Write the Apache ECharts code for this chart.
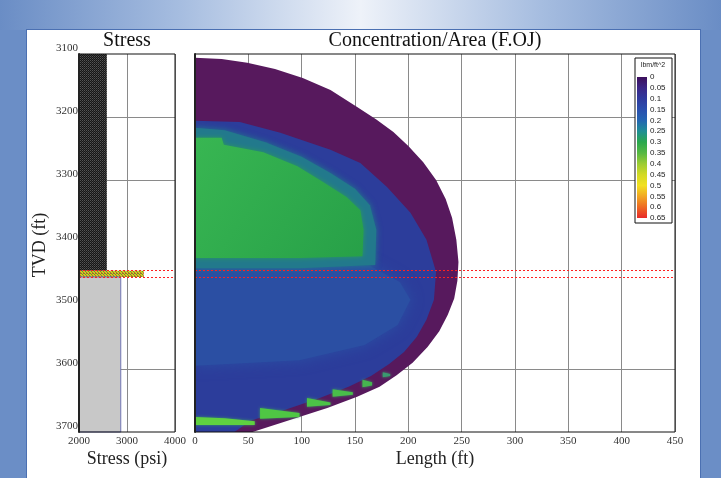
<!DOCTYPE html>
<html><head><meta charset="utf-8">
<script src="https://cdn.jsdelivr.net/npm/echarts@6/dist/echarts.min.js"></script>
<style>
html,body{margin:0;padding:0;width:721px;height:478px;overflow:hidden;background:#6b8ec6;}
#top{position:absolute;left:0;top:0;width:721px;height:30px;background:linear-gradient(to right,#6a8dc5 0%,#a6bde0 25%,#eef2f9 50%,#a6bde0 75%,#6a8dc5 100%);}
#panel{position:absolute;left:26px;top:29px;width:673px;height:460px;background:#fff;border:1px solid #4b70b2;}
#chart{position:absolute;left:0;top:0;width:721px;height:478px;}
</style></head>
<body><div id="top"></div><div id="panel"></div><div id="chart"></div>
<script>
// ---- data ----
const layerTops = [3100, 3444, 3454];
const layerBottoms = [3444, 3454, 3700];
const layerStress = [2580, 3350, 2870];
const gridDepths = [3200, 3300, 3600];
const markerDepths = [3444, 3454];
const legendMax = 0.65;

const envelopeZone = [[0,3106],[25,3108],[49,3114],[75,3124],[101,3138],[127,3157],[152,3184],[170,3204],[186,3224],[200,3246],[214,3272],[226,3300],[235,3330],[241,3360],[245,3395],[247,3430],[246,3460],[243,3488],[237,3514],[229,3540],[218,3565],[204,3590],[189,3610],[173,3628],[152,3644],[124,3662],[89,3681],[54,3700],[0,3700]];
const blueZone = [[0,3206],[42,3208],[80,3225],[127,3252],[155,3273],[180,3311],[202,3352],[217,3395],[226,3446],[224,3490],[217,3522],[208,3549],[196,3573],[182,3592],[165,3611],[144,3628],[117,3646],[84,3665],[52,3682],[37,3700],[0,3700]];
const coreBlueZone = [[0,3430],[164,3436],[192,3462],[202,3490],[190,3530],[159,3562],[98,3586],[0,3595]];
const tealZone = [[0,3217],[28,3221],[66,3240],[100,3263],[127,3289],[150,3314],[164,3340],[170,3379],[169,3435],[98,3440],[0,3440]];
const greenZone = [[0,3233],[25,3233],[27,3244],[64,3256],[96,3278],[120,3303],[142,3327],[155,3348],[158,3379],[157,3421],[98,3424],[0,3424]];
const streakZones = [
  [[0,3676],[28,3678],[56,3683],[56,3689],[0,3689]],
  [[61,3662],[61,3679],[98,3676],[98,3670]],
  [[105,3646],[105,3660],[127,3657],[127,3653]],
  [[129,3632],[129,3644],[148,3641],[148,3637]],
  [[157,3617],[157,3629],[166,3626],[166,3621]],
  [[176,3605],[176,3613],[183,3611],[183,3608]]
];

// ---- styles ----
const legendColors = ['#3d0f5c','#3b2687','#2f3a9e','#2a4fae','#2466b2','#1f8f95','#2aa84d','#56b843','#9ccc33','#d2d925','#f2e01f','#f2a722','#ee6a22','#e82a2a'];
const serif = '"Liberation Serif","DejaVu Serif",serif';

function makePattern(size, bg, cells) {
  const c = document.createElement('canvas'); c.width = size; c.height = size;
  const g = c.getContext('2d'); g.fillStyle = bg; g.fillRect(0,0,size,size);
  cells.forEach(([x,y,col]) => { g.fillStyle = col; g.fillRect(x,y,1,1); });
  return c;
}
const darkPat = makePattern(2, '#161616', [[0,0,'#555'],[1,1,'#3a3a3a']]);
const bandPat = makePattern(3, '#d8c21e', [[0,0,'#5f9a32'],[1,1,'#5f9a32'],[2,2,'#8a8a30'],[2,0,'#c05030']]);
function layerStyle(i) {
  if (i === 0) return {fill:{image:darkPat, repeat:'repeat'}};
  if (i === 1) return {fill:{image:bandPat, repeat:'repeat'}};
  return {fill:'#c8c8c8', stroke:'#7276b4', lineWidth:1};
}
const zones = [envelopeZone, blueZone, coreBlueZone, tealZone, greenZone].concat(streakZones);
function zoneStyle(i) {
  switch (i) {
    case 0: return {fill:'#57195d'};
    case 1: return {fill:'#2c3d9b'};
    case 2: return {fill:'#2b4fa3', shadowBlur:14, shadowColor:'#2b4fa3'};
    case 3: return {fill:'#22798c', shadowBlur:6, shadowColor:'#22798c'};
    case 4: return {fill:new echarts.graphic.LinearGradient(0,0,1,1,[{offset:0,color:'#38b652'},{offset:1,color:'#27a048'}]), shadowBlur:5, shadowColor:'#2a9a5a'};
    case 5: return {fill:'#5fd040', shadowBlur:3, shadowColor:'#3aa060'};
    default: return {fill:['#4fc644','#4cc247','#49bd4a','#46b44f','#3a9a70'][i-6] || '#4cc247', shadowBlur:3, shadowColor:'#3aa060'};
  }
}

const chart = echarts.init(document.getElementById('chart'), null, {renderer:'canvas'});

function gridLineSeries(idx, x0, depths, z) {
  return {type:'custom', xAxisIndex:idx, yAxisIndex:idx, z:z, silent:true,
    data: depths.map(d => [x0, d]),
    renderItem: (params, api) => {
      const cs = params.coordSys;
      const y = Math.round(api.coord([api.value(0), api.value(1)])[1]) + 0.5;
      return {type:'line', shape:{x1:cs.x, y1:y, x2:cs.x + cs.width, y2:y}, style:{stroke:'#8a8a8a', lineWidth:1}};
    }};
}
function markerSeries(idx) {
  return {type:'line', xAxisIndex:idx, yAxisIndex:idx, z:5, silent:true, data:[], symbol:'none',
    markLine:{silent:true, symbol:'none', animation:false, label:{show:false},
      lineStyle:{color:'#ff2020', width:1, type:[2,2], opacity:1},
      emphasis:{disabled:true},
      data: markerDepths.map(d => ({yAxis:d}))}};
}

const labelStyle = {color:'#333', fontFamily:serif, fontSize:11, formatter: v => String(v)};

chart.setOption({
  animation:false,
  backgroundColor:'transparent',
  grid:[
    {left:79, top:54, width:96, height:378, show:true, backgroundColor:'transparent', borderColor:'#111', borderWidth:1, z:10, outerBoundsMode:'none'},
    {left:195, top:54, width:480, height:378, show:true, backgroundColor:'transparent', borderColor:'#111', borderWidth:1, z:10, outerBoundsMode:'none'},
    {left:637, top:77, width:10, height:141, show:false, outerBoundsMode:'none'}
  ],
  xAxis:[
    {gridIndex:0, type:'value', min:2000, max:4000, interval:1000, axisLine:{show:false}, axisTick:{show:false},
     splitLine:{show:true, lineStyle:{color:'#8a8a8a', width:1}}, axisLabel:Object.assign({margin:4}, labelStyle)},
    {gridIndex:1, type:'value', min:0, max:450, interval:50, axisLine:{show:false}, axisTick:{show:false},
     splitLine:{show:true, lineStyle:{color:'#8a8a8a', width:1}}, axisLabel:Object.assign({margin:4}, labelStyle)},
    {gridIndex:2, type:'value', min:0, max:1, show:false}
  ],
  yAxis:[
    {gridIndex:0, type:'value', min:3100, max:3700, interval:100, inverse:true, z:11,
     axisLine:{show:true, lineStyle:{color:'#222', width:2}}, axisTick:{show:false}, splitLine:{show:false},
     axisLabel:Object.assign({margin:1, verticalAlign:'bottom'}, labelStyle)},
    {gridIndex:1, type:'value', min:3100, max:3700, interval:100, inverse:true, z:11,
     axisLine:{show:true, lineStyle:{color:'#222', width:2}}, axisTick:{show:false}, splitLine:{show:false}, axisLabel:{show:false}},
    {gridIndex:2, type:'value', min:0, max:legendMax, interval:0.05, inverse:true, position:'right', z:12,
     axisLine:{show:false}, axisTick:{show:false}, splitLine:{show:false},
     axisLabel:{margin:3, color:'#222', fontSize:8, fontFamily:'"Liberation Sans",sans-serif', formatter: v => String(+v.toFixed(2))}}
  ],
  graphic:[
    {type:'rect', z:3, shape:{x:635, y:58, width:37, height:165}, style:{fill:'#fff', stroke:'#111', lineWidth:1}},
    {type:'text', z:4, x:653, y:65, style:{text:'lbm/ft^2', fill:'#222', font:'7px "Liberation Sans",sans-serif', align:'center', verticalAlign:'middle'}},
    {type:'text', x:127, y:41, style:{text:'Stress', fill:'#111', font:'20px '+serif, align:'center', verticalAlign:'middle'}},
    {type:'text', x:435, y:41, style:{text:'Concentration/Area (F.OJ)', fill:'#111', font:'20px '+serif, align:'center', verticalAlign:'middle'}},
    {type:'text', x:127, y:459, style:{text:'Stress (psi)', fill:'#222', font:'18px '+serif, align:'center', verticalAlign:'middle'}},
    {type:'text', x:435, y:459, style:{text:'Length (ft)', fill:'#222', font:'18px '+serif, align:'center', verticalAlign:'middle'}},
    {type:'text', x:40, y:245, rotation:Math.PI/2, style:{text:'TVD (ft)', fill:'#222', font:'18px '+serif, align:'center', verticalAlign:'middle'}}
  ],
  series:[
    gridLineSeries(0, 2000, gridDepths, 1),
    gridLineSeries(1, 0, gridDepths, 1),
    {type:'custom', xAxisIndex:0, yAxisIndex:0, z:2, silent:true,
     data: layerStress.map((v,i) => [v, layerTops[i], layerBottoms[i]]),
     renderItem: (params, api) => {
       const a = api.coord([2000, api.value(1)]);
       const b = api.coord([api.value(0), api.value(2)]);
       return {type:'rect', shape:{x:a[0], y:a[1], width:b[0]-a[0], height:b[1]-a[1]}, style: layerStyle(params.dataIndex)};
     }},
    {type:'custom', xAxisIndex:1, yAxisIndex:1, z:2, silent:true, clip:true,
     data: zones.map(zn => [zn[0][0], zn[0][1]]),
     renderItem: (params, api) => {
       const pts = zones[params.dataIndex].map(p => api.coord(p));
       return {type:'polygon', shape:{points:pts}, style: zoneStyle(params.dataIndex)};
     }},
    markerSeries(0),
    markerSeries(1),
    {type:'custom', xAxisIndex:2, yAxisIndex:2, z:6, silent:true,
     data:[[0, 0]],
     renderItem: (params, api) => {
       const a = api.coord([0, 0]);
       const b = api.coord([1, legendMax]);
       const stops = legendColors.map((c,i) => ({offset: i/(legendColors.length-1), color: c}));
       return {type:'rect', shape:{x:a[0], y:a[1], width:b[0]-a[0], height:b[1]-a[1]},
         style:{fill: new echarts.graphic.LinearGradient(0,0,0,1, stops)}};
     }}
  ]
});
</script></body></html>
